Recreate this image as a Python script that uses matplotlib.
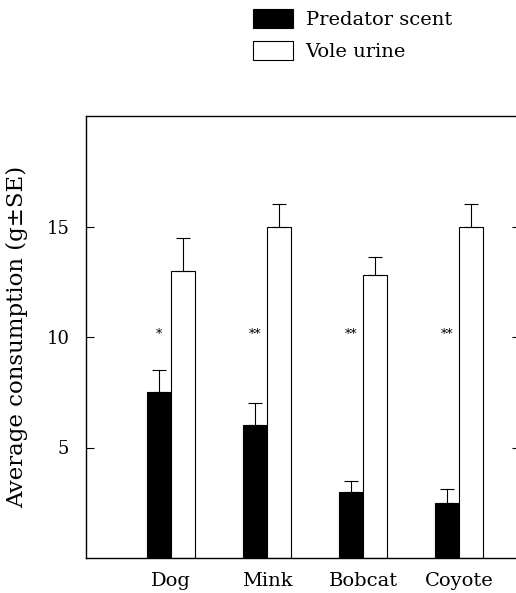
import matplotlib
matplotlib.use("Agg")
import matplotlib.pyplot as plt
import numpy as np
from matplotlib.patches import Patch

plt.rcParams['font.family'] = ['DejaVu Serif']

categories = ["Dog", "Mink", "Bobcat", "Coyote"]
predator_mean = [7.5, 6.0, 3.0, 2.5]
predator_se = [1.0, 1.0, 0.5, 0.6]
vole_mean = [13.0, 15.0, 12.8, 15.0]
vole_se = [1.5, 1.0, 0.8, 1.0]
signif = ["*", "**", "**", "**"]
yticks = [5, 10, 15]
series_labels = ["Predator scent", "Vole urine"]

W, H = 516, 593
fig = plt.figure(figsize=(W / 100, H / 100), dpi=100)
ax = fig.add_axes([86 / W, 35 / H, (520 - 86) / W, (558 - 116) / H])

x = np.arange(len(categories))
bw = 0.25
ax.bar(x - bw / 2, predator_mean, bw, color="black", edgecolor="black", linewidth=0.8,
       yerr=[np.zeros(len(x)), predator_se],
       error_kw=dict(ecolor="black", elinewidth=0.8, capsize=5, capthick=0.8))
ax.bar(x + bw / 2, vole_mean, bw, color="white", edgecolor="black", linewidth=0.8,
       yerr=[np.zeros(len(x)), vole_se],
       error_kw=dict(ecolor="black", elinewidth=0.8, capsize=5, capthick=0.8))

for xi, s in zip(x, signif):
    ax.text(xi - bw / 2, 10.1, s, ha="center", va="center", fontsize=9)

ax.set_xlim(-0.885, 3.635)
ax.set_ylim(0, 20)
ax.set_yticks(yticks)
ax.set_yticklabels([str(t) for t in yticks], fontsize=13)
ax.set_xticks(x)
ax.set_xticklabels(categories, fontsize=14)
ax.tick_params(axis="x", length=0, pad=10)
ax.tick_params(axis="y", direction="in", length=6, width=0.8, right=True, pad=12)
for sp in ax.spines.values():
    sp.set_linewidth(1.0)

ax.set_ylabel("Average consumption (g±SE)", fontsize=16.5)
ax.yaxis.set_label_coords(-(86 - 28) / (520 - 86), 0.5)

handles = [Patch(facecolor="black", edgecolor="black", linewidth=0.8),
           Patch(facecolor="white", edgecolor="black", linewidth=0.8)]
fig.legend(handles, series_labels, loc="upper left", bbox_to_anchor=(253 / W, 1 - 9 / H),
           frameon=False, fontsize=14, handlelength=2.05, handleheight=1.15,
           handletextpad=0.65, labelspacing=0.6, borderpad=0, borderaxespad=0)

fig.savefig("out.png", dpi=100)
